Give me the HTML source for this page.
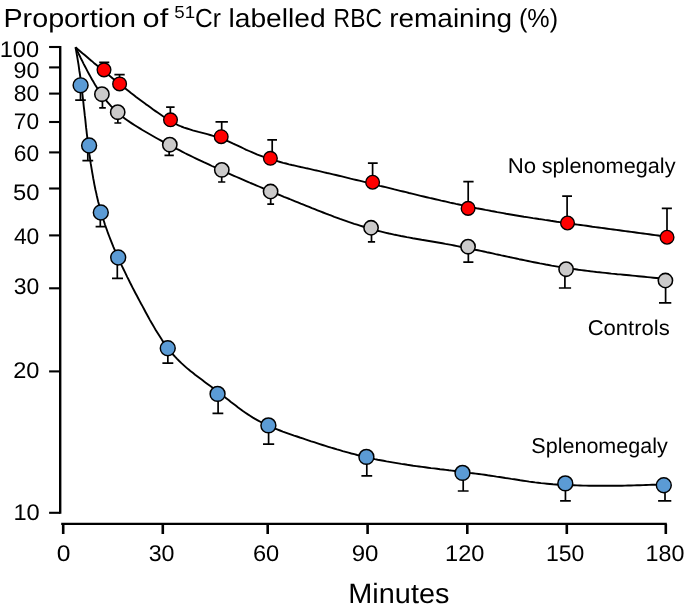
<!DOCTYPE html>
<html><head><meta charset="utf-8"><title>Chart</title>
<style>
html,body{margin:0;padding:0;background:#fff;}
svg{display:block;will-change:transform;}
text{font-family:"Liberation Sans",sans-serif;fill:#000;filter:grayscale(1);text-rendering:geometricPrecision;}
</style></head><body>
<svg width="685" height="612" viewBox="0 0 685 612">
<rect width="685" height="612" fill="#fff"/>
<path d="M60.2,45.9 V513.8" stroke="#000" stroke-width="2.4" fill="none"/>
<path d="M49.1,47.00 H60.2" stroke="#000" stroke-width="2.1" fill="none"/>
<path d="M49.1,67.40 H60.2" stroke="#000" stroke-width="2.1" fill="none"/>
<path d="M49.1,93.60 H60.2" stroke="#000" stroke-width="2.1" fill="none"/>
<path d="M49.1,122.00 H60.2" stroke="#000" stroke-width="2.1" fill="none"/>
<path d="M49.1,152.40 H60.2" stroke="#000" stroke-width="2.1" fill="none"/>
<path d="M49.1,188.50 H60.2" stroke="#000" stroke-width="2.1" fill="none"/>
<path d="M49.1,235.40 H60.2" stroke="#000" stroke-width="2.1" fill="none"/>
<path d="M49.1,288.30 H60.2" stroke="#000" stroke-width="2.1" fill="none"/>
<path d="M49.1,371.40 H60.2" stroke="#000" stroke-width="2.1" fill="none"/>
<path d="M49.1,512.80 H60.2" stroke="#000" stroke-width="2.1" fill="none"/>
<path d="M61.2,523.9 H666.8" stroke="#000" stroke-width="2.2" fill="none"/>
<path d="M63.20,523.9 V534.0" stroke="#000" stroke-width="2.6" fill="none"/>
<path d="M162.80,523.9 V534.0" stroke="#000" stroke-width="2.6" fill="none"/>
<path d="M267.70,523.9 V534.0" stroke="#000" stroke-width="2.6" fill="none"/>
<path d="M367.60,523.9 V534.0" stroke="#000" stroke-width="2.6" fill="none"/>
<path d="M467.30,523.9 V534.0" stroke="#000" stroke-width="2.6" fill="none"/>
<path d="M566.80,523.9 V534.0" stroke="#000" stroke-width="2.6" fill="none"/>
<path d="M665.80,523.9 V534.0" stroke="#000" stroke-width="2.6" fill="none"/>
<text x="-0.32" y="56.90" font-size="22.60" textLength="39.35" lengthAdjust="spacingAndGlyphs">100</text>
<text x="13.50" y="77.60" font-size="22.60" textLength="25.85" lengthAdjust="spacingAndGlyphs">90</text>
<text x="13.89" y="101.10" font-size="22.60" textLength="25.50" lengthAdjust="spacingAndGlyphs">80</text>
<text x="13.85" y="128.90" font-size="22.60" textLength="25.23" lengthAdjust="spacingAndGlyphs">70</text>
<text x="13.77" y="160.60" font-size="22.60" textLength="25.36" lengthAdjust="spacingAndGlyphs">60</text>
<text x="13.09" y="200.10" font-size="22.60" textLength="26.43" lengthAdjust="spacingAndGlyphs">50</text>
<text x="13.90" y="244.00" font-size="22.60" textLength="25.41" lengthAdjust="spacingAndGlyphs">40</text>
<text x="13.89" y="293.90" font-size="22.60" textLength="25.48" lengthAdjust="spacingAndGlyphs">30</text>
<text x="13.22" y="377.60" font-size="22.60" textLength="26.22" lengthAdjust="spacingAndGlyphs">20</text>
<text x="13.48" y="520.00" font-size="22.60" textLength="26.31" lengthAdjust="spacingAndGlyphs">10</text>
<text x="56.74" y="560.80" font-size="22.60" textLength="13.69" lengthAdjust="spacingAndGlyphs">0</text>
<text x="148.65" y="560.80" font-size="22.60" textLength="25.82" lengthAdjust="spacingAndGlyphs">30</text>
<text x="252.92" y="560.80" font-size="22.60" textLength="26.30" lengthAdjust="spacingAndGlyphs">60</text>
<text x="351.78" y="560.80" font-size="22.60" textLength="26.73" lengthAdjust="spacingAndGlyphs">90</text>
<text x="445.11" y="560.80" font-size="22.60" textLength="39.27" lengthAdjust="spacingAndGlyphs">120</text>
<text x="545.96" y="560.80" font-size="22.60" textLength="38.33" lengthAdjust="spacingAndGlyphs">150</text>
<text x="645.60" y="560.80" font-size="22.60" textLength="38.86" lengthAdjust="spacingAndGlyphs">180</text>
<text x="3.48" y="26.50" font-size="26.00" textLength="132.50" lengthAdjust="spacingAndGlyphs">Proportion</text>
<text x="142.60" y="26.50" font-size="26.00" textLength="25.61" lengthAdjust="spacingAndGlyphs">of</text>
<text x="195.04" y="26.50" font-size="26.00" textLength="25.95" lengthAdjust="spacingAndGlyphs">Cr</text>
<text x="228.48" y="26.50" font-size="26.00" textLength="97.24" lengthAdjust="spacingAndGlyphs">labelled</text>
<text x="333.61" y="26.50" font-size="26.00" textLength="48.34" lengthAdjust="spacingAndGlyphs">RBC</text>
<text x="389.20" y="26.50" font-size="26.00" textLength="122.81" lengthAdjust="spacingAndGlyphs">remaining</text>
<text x="519.01" y="26.50" font-size="26.00" textLength="39.04" lengthAdjust="spacingAndGlyphs">(%)</text>
<text x="174.28" y="17.60" font-size="17.40" textLength="20.87" lengthAdjust="spacingAndGlyphs">51</text>
<text x="348.31" y="602.90" font-size="28.00" textLength="101.13" lengthAdjust="spacingAndGlyphs">Minutes</text>
<text x="507.69" y="172.60" font-size="21.40" textLength="28.40" lengthAdjust="spacingAndGlyphs">No</text>
<text x="541.70" y="172.60" font-size="21.40" textLength="133.82" lengthAdjust="spacingAndGlyphs">splenomegaly</text>
<text x="587.66" y="335.40" font-size="21.40" textLength="82.05" lengthAdjust="spacingAndGlyphs">Controls</text>
<text x="531.30" y="452.90" font-size="21.40" textLength="136.48" lengthAdjust="spacingAndGlyphs">Splenomegaly</text>
<path d="M102.45,94.20 V107.90 M99.20,107.90 H105.80" stroke="#000" stroke-width="1.70" fill="none"/>
<path d="M117.85,112.20 V123.00 M114.40,123.00 H121.30" stroke="#000" stroke-width="1.70" fill="none"/>
<path d="M169.15,144.70 V155.40 M164.50,155.40 H173.80" stroke="#000" stroke-width="1.70" fill="none"/>
<path d="M221.70,169.90 V182.00 M218.10,182.00 H225.30" stroke="#000" stroke-width="1.70" fill="none"/>
<path d="M270.70,191.50 V204.20 M267.30,204.20 H274.10" stroke="#000" stroke-width="1.70" fill="none"/>
<path d="M371.50,227.75 V241.80 M367.90,241.80 H375.10" stroke="#000" stroke-width="1.70" fill="none"/>
<path d="M468.35,246.70 V262.20 M463.30,262.20 H473.40" stroke="#000" stroke-width="1.70" fill="none"/>
<path d="M564.90,269.20 V288.00 M558.90,288.00 H571.10" stroke="#000" stroke-width="1.70" fill="none"/>
<path d="M665.60,280.50 V302.90 M659.00,302.90 H671.30" stroke="#000" stroke-width="1.70" fill="none"/>
<path d="M75.5,47.3 L76.8,50.1 L78.2,52.8 L79.5,55.5 L80.8,58.2 L82.2,60.9 L83.5,63.6 L84.9,66.2 L86.3,68.9 L87.7,71.6 L89.1,74.2 L90.6,76.9 L92.0,79.5 L93.6,82.1 L95.1,84.7 L96.7,87.2 L98.3,89.8 L100.0,92.3 L101.8,94.7 L103.6,97.2 L105.4,99.5 L107.3,101.9 L109.3,104.2 L111.3,106.4 L113.4,108.6 L115.5,110.7 L117.7,112.7 L120.0,114.7 L122.3,116.6 L124.7,118.4 L127.2,120.2 L129.6,121.9 L132.2,123.6 L134.7,125.2 L137.2,126.8 L139.8,128.4 L142.4,130.0 L145.0,131.5 L147.6,133.0 L150.2,134.5 L152.8,136.0 L155.4,137.5 L158.1,139.0 L160.7,140.4 L163.3,141.9 L166.0,143.3 L168.7,144.7 L171.3,146.1 L174.0,147.5 L176.7,148.9 L179.4,150.2 L182.0,151.6 L184.7,153.0 L187.4,154.3 L190.1,155.6 L192.9,157.0 L195.6,158.3 L198.3,159.6 L201.0,160.9 L203.7,162.2 L206.5,163.4 L209.2,164.7 L211.9,166.0 L214.7,167.2 L217.4,168.5 L220.1,169.7 L222.9,170.9 L225.6,172.2 L228.4,173.4 L231.2,174.6 L233.9,175.8 L236.7,177.0 L239.4,178.2 L242.2,179.4 L245.0,180.6 L247.8,181.8 L250.5,183.0 L253.3,184.1 L256.1,185.3 L258.9,186.5 L261.6,187.6 L264.4,188.8 L267.2,189.9 L270.0,191.1 L272.8,192.2 L275.6,193.4 L278.4,194.5 L281.1,195.6 L283.9,196.8 L286.7,197.9 L289.5,199.0 L292.3,200.2 L295.1,201.3 L297.9,202.4 L300.7,203.6 L303.5,204.7 L306.3,205.8 L309.1,206.9 L311.9,208.1 L314.7,209.2 L317.5,210.3 L320.3,211.4 L323.1,212.5 L325.9,213.6 L328.7,214.7 L331.5,215.7 L334.3,216.8 L337.2,217.8 L340.0,218.9 L342.8,219.9 L345.7,220.9 L348.5,221.9 L351.4,222.8 L354.2,223.8 L357.1,224.7 L360.0,225.6 L362.8,226.5 L365.7,227.4 L368.6,228.3 L371.5,229.1 L374.4,229.9 L377.3,230.7 L380.3,231.4 L383.2,232.1 L386.1,232.8 L389.1,233.5 L392.0,234.1 L394.9,234.8 L397.9,235.4 L400.9,236.0 L403.8,236.5 L406.8,237.1 L409.7,237.6 L412.7,238.2 L415.7,238.7 L418.6,239.2 L421.6,239.8 L424.6,240.3 L427.5,240.8 L430.5,241.3 L433.5,241.8 L436.4,242.3 L439.4,242.8 L442.4,243.3 L445.4,243.9 L448.3,244.4 L451.3,244.9 L454.2,245.5 L457.2,246.1 L460.2,246.7 L463.1,247.2 L466.1,247.8 L469.0,248.4 L472.0,249.0 L474.9,249.7 L477.9,250.3 L480.8,250.9 L483.8,251.5 L486.7,252.2 L489.7,252.8 L492.6,253.4 L495.5,254.1 L498.5,254.7 L501.4,255.4 L504.4,256.0 L507.3,256.6 L510.3,257.3 L513.2,257.9 L516.2,258.5 L519.1,259.2 L522.1,259.8 L525.0,260.4 L528.0,261.0 L530.9,261.6 L533.9,262.2 L536.8,262.8 L539.8,263.4 L542.7,263.9 L545.7,264.5 L548.7,265.0 L551.6,265.6 L554.6,266.1 L557.6,266.6 L560.5,267.1 L563.5,267.6 L566.5,268.0 L569.5,268.5 L572.4,268.9 L575.4,269.3 L578.4,269.8 L581.4,270.1 L584.4,270.5 L587.4,270.9 L590.4,271.3 L593.4,271.6 L596.4,272.0 L599.4,272.3 L602.3,272.6 L605.3,272.9 L608.3,273.2 L611.3,273.6 L614.3,273.9 L617.3,274.2 L620.3,274.4 L623.3,274.7 L626.3,275.0 L629.3,275.3 L632.3,275.6 L635.3,275.9 L638.3,276.2 L641.3,276.5 L644.3,276.8 L647.3,277.1 L650.3,277.4 L653.3,277.7 L656.3,278.0 L659.3,278.3 L662.3,278.7 L665.3,279.0" stroke="#000" stroke-width="1.90" fill="none" stroke-linejoin="round"/>
<circle cx="101.90" cy="94.20" r="7.15" fill="#cbcaca" stroke="#000" stroke-width="1.55"/>
<circle cx="117.70" cy="112.20" r="7.15" fill="#cbcaca" stroke="#000" stroke-width="1.55"/>
<circle cx="169.80" cy="144.70" r="7.15" fill="#cbcaca" stroke="#000" stroke-width="1.55"/>
<circle cx="221.80" cy="169.90" r="7.15" fill="#cbcaca" stroke="#000" stroke-width="1.55"/>
<circle cx="270.60" cy="191.50" r="7.15" fill="#cbcaca" stroke="#000" stroke-width="1.55"/>
<circle cx="371.05" cy="227.75" r="7.15" fill="#cbcaca" stroke="#000" stroke-width="1.55"/>
<circle cx="468.05" cy="246.70" r="7.15" fill="#cbcaca" stroke="#000" stroke-width="1.55"/>
<circle cx="566.10" cy="269.20" r="7.15" fill="#cbcaca" stroke="#000" stroke-width="1.55"/>
<circle cx="665.40" cy="280.50" r="7.15" fill="#cbcaca" stroke="#000" stroke-width="1.55"/>
<path d="M104.25,69.85 V62.35 M99.20,62.35 H109.30" stroke="#000" stroke-width="1.70" fill="none"/>
<path d="M119.55,83.90 V74.60 M114.40,74.60 H124.70" stroke="#000" stroke-width="1.70" fill="none"/>
<path d="M170.35,119.80 V107.20 M166.10,107.20 H174.60" stroke="#000" stroke-width="1.70" fill="none"/>
<path d="M221.70,136.70 V121.90 M215.50,121.90 H227.90" stroke="#000" stroke-width="1.70" fill="none"/>
<path d="M272.20,158.30 V139.90 M267.30,139.90 H277.00" stroke="#000" stroke-width="1.70" fill="none"/>
<path d="M372.60,182.25 V163.20 M367.90,163.20 H377.70" stroke="#000" stroke-width="1.70" fill="none"/>
<path d="M468.20,208.40 V181.70 M463.30,181.70 H473.60" stroke="#000" stroke-width="1.70" fill="none"/>
<path d="M567.10,223.00 V196.10 M562.20,196.10 H572.00" stroke="#000" stroke-width="1.70" fill="none"/>
<path d="M667.00,237.25 V208.30 M661.80,208.30 H671.90" stroke="#000" stroke-width="1.70" fill="none"/>
<path d="M75.5,47.3 L77.8,49.3 L80.1,51.2 L82.4,53.2 L84.7,55.1 L87.0,57.0 L89.3,59.0 L91.6,60.9 L93.9,62.9 L96.2,64.8 L98.5,66.7 L100.9,68.6 L103.2,70.6 L105.5,72.5 L107.8,74.4 L110.2,76.3 L112.5,78.2 L114.8,80.1 L117.2,82.0 L119.5,83.9 L121.9,85.7 L124.2,87.6 L126.6,89.5 L128.9,91.3 L131.3,93.2 L133.7,95.0 L136.1,96.9 L138.5,98.7 L140.9,100.5 L143.3,102.3 L145.7,104.1 L148.2,105.8 L150.6,107.6 L153.1,109.4 L155.5,111.1 L158.0,112.8 L160.5,114.5 L163.0,116.2 L165.5,117.8 L168.0,119.5 L170.6,121.1 L173.2,122.6 L175.8,124.0 L178.5,125.3 L181.3,126.5 L184.1,127.6 L187.0,128.5 L189.8,129.4 L192.7,130.3 L195.6,131.1 L198.5,131.9 L201.4,132.6 L204.4,133.4 L207.3,134.2 L210.2,135.0 L213.1,135.8 L215.9,136.7 L218.8,137.7 L221.6,138.7 L224.4,139.8 L227.2,140.9 L230.0,142.1 L232.7,143.4 L235.4,144.6 L238.2,145.9 L240.9,147.2 L243.6,148.5 L246.3,149.8 L249.1,151.0 L251.8,152.2 L254.6,153.4 L257.4,154.6 L260.2,155.6 L263.0,156.7 L265.8,157.7 L268.7,158.6 L271.6,159.5 L274.5,160.4 L277.3,161.2 L280.2,162.0 L283.2,162.8 L286.1,163.5 L289.0,164.3 L291.9,165.0 L294.9,165.6 L297.8,166.3 L300.7,167.0 L303.7,167.6 L306.6,168.3 L309.5,168.9 L312.5,169.6 L315.4,170.3 L318.3,170.9 L321.3,171.6 L324.2,172.3 L327.1,173.0 L330.1,173.6 L333.0,174.3 L335.9,175.0 L338.9,175.7 L341.8,176.4 L344.7,177.1 L347.6,177.8 L350.6,178.6 L353.5,179.3 L356.4,180.0 L359.3,180.7 L362.3,181.4 L365.2,182.1 L368.1,182.9 L371.0,183.6 L373.9,184.3 L376.9,185.0 L379.8,185.8 L382.7,186.5 L385.6,187.2 L388.5,187.9 L391.5,188.6 L394.4,189.4 L397.3,190.1 L400.2,190.8 L403.2,191.5 L406.1,192.2 L409.0,193.0 L411.9,193.7 L414.9,194.4 L417.8,195.1 L420.7,195.8 L423.6,196.5 L426.6,197.2 L429.5,197.9 L432.4,198.5 L435.4,199.2 L438.3,199.9 L441.2,200.6 L444.2,201.2 L447.1,201.9 L450.0,202.6 L453.0,203.2 L455.9,203.9 L458.9,204.5 L461.8,205.1 L464.7,205.7 L467.7,206.4 L470.6,207.0 L473.6,207.6 L476.5,208.2 L479.5,208.7 L482.4,209.3 L485.4,209.9 L488.4,210.4 L491.3,211.0 L494.3,211.5 L497.2,212.1 L500.2,212.6 L503.2,213.1 L506.1,213.7 L509.1,214.2 L512.1,214.7 L515.0,215.2 L518.0,215.7 L521.0,216.2 L523.9,216.7 L526.9,217.1 L529.9,217.6 L532.9,218.1 L535.8,218.5 L538.8,219.0 L541.8,219.4 L544.8,219.9 L547.7,220.3 L550.7,220.8 L553.7,221.2 L556.7,221.7 L559.6,222.1 L562.6,222.5 L565.6,222.9 L568.6,223.4 L571.6,223.8 L574.5,224.2 L577.5,224.6 L580.5,225.0 L583.5,225.4 L586.5,225.8 L589.5,226.2 L592.4,226.7 L595.4,227.1 L598.4,227.5 L601.4,227.9 L604.4,228.3 L607.4,228.7 L610.3,229.1 L613.3,229.5 L616.3,229.9 L619.3,230.3 L622.3,230.7 L625.3,231.1 L628.2,231.5 L631.2,231.9 L634.2,232.3 L637.2,232.7 L640.2,233.1 L643.2,233.5 L646.1,233.9 L649.1,234.3 L652.1,234.7 L655.1,235.1 L658.1,235.5 L661.0,236.0 L664.0,236.4 L667.0,236.8" stroke="#000" stroke-width="1.90" fill="none" stroke-linejoin="round"/>
<circle cx="104.00" cy="69.85" r="6.85" fill="#ff0000" stroke="#000" stroke-width="1.35"/>
<circle cx="119.60" cy="83.90" r="6.85" fill="#ff0000" stroke="#000" stroke-width="1.35"/>
<circle cx="170.50" cy="119.80" r="6.85" fill="#ff0000" stroke="#000" stroke-width="1.35"/>
<circle cx="221.20" cy="136.70" r="6.85" fill="#ff0000" stroke="#000" stroke-width="1.35"/>
<circle cx="270.40" cy="158.30" r="6.85" fill="#ff0000" stroke="#000" stroke-width="1.35"/>
<circle cx="372.60" cy="182.25" r="6.85" fill="#ff0000" stroke="#000" stroke-width="1.35"/>
<circle cx="468.10" cy="208.40" r="6.85" fill="#ff0000" stroke="#000" stroke-width="1.35"/>
<circle cx="567.50" cy="223.00" r="6.85" fill="#ff0000" stroke="#000" stroke-width="1.35"/>
<circle cx="667.05" cy="237.25" r="6.85" fill="#ff0000" stroke="#000" stroke-width="1.35"/>
<path d="M80.50,85.30 V100.10 M75.20,100.10 H85.80" stroke="#000" stroke-width="1.70" fill="none"/>
<path d="M87.80,145.50 V160.70 M82.40,160.70 H93.20" stroke="#000" stroke-width="1.70" fill="none"/>
<path d="M100.30,212.50 V226.70 M95.60,226.70 H105.00" stroke="#000" stroke-width="1.70" fill="none"/>
<path d="M117.30,257.50 V278.40 M112.00,278.40 H123.00" stroke="#000" stroke-width="1.70" fill="none"/>
<path d="M167.85,348.30 V363.10 M162.40,363.10 H173.30" stroke="#000" stroke-width="1.70" fill="none"/>
<path d="M218.10,393.90 V413.30 M212.50,413.30 H223.30" stroke="#000" stroke-width="1.70" fill="none"/>
<path d="M268.60,425.40 V444.20 M263.00,444.20 H274.20" stroke="#000" stroke-width="1.70" fill="none"/>
<path d="M366.80,456.90 V475.90 M361.40,475.90 H372.20" stroke="#000" stroke-width="1.70" fill="none"/>
<path d="M463.20,472.90 V491.00 M457.80,491.00 H468.60" stroke="#000" stroke-width="1.70" fill="none"/>
<path d="M565.45,483.40 V500.80 M560.10,500.80 H570.80" stroke="#000" stroke-width="1.70" fill="none"/>
<path d="M665.00,485.30 V500.80 M658.10,500.80 H671.30" stroke="#000" stroke-width="1.70" fill="none"/>
<path d="M75.5,47.4 L76.1,50.3 L76.6,53.3 L77.1,56.2 L77.6,59.2 L78.1,62.1 L78.6,65.1 L79.0,68.1 L79.4,71.0 L79.9,74.0 L80.3,77.0 L80.7,80.0 L81.0,82.9 L81.4,85.9 L81.8,88.9 L82.1,91.9 L82.5,94.8 L82.8,97.8 L83.2,100.8 L83.5,103.8 L83.8,106.8 L84.2,109.8 L84.5,112.7 L84.8,115.7 L85.2,118.7 L85.5,121.7 L85.8,124.7 L86.1,127.7 L86.5,130.6 L86.8,133.6 L87.2,136.6 L87.5,139.6 L87.9,142.6 L88.3,145.5 L88.7,148.5 L89.0,151.5 L89.4,154.5 L89.9,157.4 L90.3,160.4 L90.7,163.4 L91.2,166.3 L91.7,169.3 L92.2,172.3 L92.7,175.2 L93.2,178.2 L93.8,181.1 L94.3,184.1 L94.9,187.0 L95.5,190.0 L96.2,192.9 L96.8,195.8 L97.5,198.7 L98.2,201.7 L99.0,204.6 L99.8,207.5 L100.6,210.4 L101.4,213.2 L102.3,216.1 L103.1,219.0 L104.1,221.8 L105.0,224.7 L106.0,227.5 L107.0,230.3 L108.0,233.2 L109.1,236.0 L110.2,238.8 L111.3,241.6 L112.4,244.3 L113.5,247.1 L114.7,249.9 L115.9,252.6 L117.1,255.4 L118.3,258.1 L119.6,260.9 L120.8,263.6 L122.1,266.3 L123.4,269.0 L124.7,271.7 L126.0,274.4 L127.3,277.1 L128.7,279.8 L130.0,282.5 L131.4,285.2 L132.7,287.8 L134.1,290.5 L135.5,293.2 L136.9,295.8 L138.3,298.5 L139.7,301.1 L141.1,303.8 L142.6,306.4 L144.0,309.0 L145.4,311.7 L146.8,314.3 L148.3,317.0 L149.7,319.6 L151.2,322.2 L152.7,324.8 L154.2,327.4 L155.7,330.0 L157.3,332.6 L158.9,335.1 L160.5,337.6 L162.1,340.1 L163.8,342.6 L165.6,345.1 L167.3,347.5 L169.2,349.9 L171.1,352.2 L173.0,354.5 L175.0,356.7 L177.1,358.9 L179.2,361.0 L181.4,363.1 L183.6,365.1 L185.8,367.1 L188.1,369.1 L190.4,371.0 L192.8,372.8 L195.1,374.7 L197.5,376.5 L199.9,378.3 L202.3,380.1 L204.7,381.9 L207.1,383.7 L209.6,385.5 L212.0,387.2 L214.4,389.0 L216.8,390.8 L219.2,392.7 L221.5,394.5 L223.9,396.4 L226.2,398.2 L228.6,400.1 L230.9,402.0 L233.3,403.8 L235.7,405.6 L238.1,407.5 L240.5,409.2 L242.9,411.0 L245.4,412.7 L247.9,414.4 L250.4,416.0 L252.9,417.6 L255.5,419.1 L258.2,420.6 L260.8,422.0 L263.5,423.4 L266.2,424.7 L268.9,425.9 L271.6,427.2 L274.4,428.3 L277.2,429.4 L280.0,430.5 L282.8,431.6 L285.6,432.6 L288.4,433.6 L291.3,434.6 L294.1,435.6 L297.0,436.5 L299.8,437.5 L302.7,438.4 L305.5,439.4 L308.3,440.3 L311.2,441.3 L314.1,442.2 L316.9,443.1 L319.8,444.1 L322.6,445.0 L325.5,445.9 L328.3,446.8 L331.2,447.7 L334.1,448.5 L337.0,449.4 L339.8,450.2 L342.7,451.1 L345.6,451.9 L348.5,452.7 L351.4,453.5 L354.3,454.2 L357.2,455.0 L360.1,455.7 L363.0,456.4 L366.0,457.1 L368.9,457.8 L371.8,458.4 L374.8,459.1 L377.7,459.7 L380.6,460.2 L383.6,460.8 L386.5,461.4 L389.5,461.9 L392.4,462.4 L395.4,462.9 L398.4,463.4 L401.3,463.9 L404.3,464.3 L407.3,464.8 L410.2,465.2 L413.2,465.7 L416.2,466.1 L419.1,466.5 L422.1,466.9 L425.1,467.3 L428.1,467.7 L431.0,468.1 L434.0,468.4 L437.0,468.8 L440.0,469.2 L443.0,469.5 L445.9,469.9 L448.9,470.3 L451.9,470.6 L454.9,471.0 L457.9,471.4 L460.8,471.7 L463.8,472.1 L466.8,472.5 L469.8,472.9 L472.7,473.2 L475.7,473.6 L478.7,474.0 L481.7,474.4 L484.6,474.8 L487.6,475.3 L490.6,475.7 L493.6,476.1 L496.5,476.6 L499.5,477.0 L502.5,477.5 L505.4,478.0 L508.4,478.4 L511.3,478.9 L514.3,479.3 L517.3,479.8 L520.2,480.3 L523.2,480.7 L526.2,481.1 L529.2,481.6 L532.1,482.0 L535.1,482.4 L538.1,482.7 L541.1,483.1 L544.0,483.4 L547.0,483.7 L550.0,484.0 L553.0,484.3 L556.0,484.5 L559.0,484.7 L562.0,484.9 L565.0,485.0 L568.0,485.1 L571.0,485.2 L574.0,485.3 L577.0,485.4 L580.0,485.5 L583.0,485.6 L586.0,485.6 L589.0,485.7 L592.0,485.7 L595.0,485.7 L598.0,485.8 L601.0,485.8 L604.0,485.8 L607.0,485.8 L610.0,485.8 L613.0,485.8 L616.0,485.7 L619.0,485.7 L622.0,485.7 L625.0,485.6 L628.0,485.5 L631.0,485.5 L634.0,485.4 L637.0,485.3 L640.0,485.2 L643.0,485.1 L646.0,485.0 L649.0,484.9 L652.0,484.8 L655.0,484.7 L658.0,484.6 L661.0,484.4 L664.0,484.3" stroke="#000" stroke-width="1.90" fill="none" stroke-linejoin="round"/>
<circle cx="80.60" cy="85.30" r="7.45" fill="#5b9bd5" stroke="#000" stroke-width="1.45"/>
<circle cx="89.10" cy="145.50" r="7.45" fill="#5b9bd5" stroke="#000" stroke-width="1.45"/>
<circle cx="100.80" cy="212.50" r="7.45" fill="#5b9bd5" stroke="#000" stroke-width="1.45"/>
<circle cx="118.20" cy="257.50" r="7.45" fill="#5b9bd5" stroke="#000" stroke-width="1.45"/>
<circle cx="167.75" cy="348.30" r="7.45" fill="#5b9bd5" stroke="#000" stroke-width="1.45"/>
<circle cx="217.56" cy="393.90" r="7.45" fill="#5b9bd5" stroke="#000" stroke-width="1.45"/>
<circle cx="268.40" cy="425.40" r="7.45" fill="#5b9bd5" stroke="#000" stroke-width="1.45"/>
<circle cx="366.40" cy="456.90" r="7.45" fill="#5b9bd5" stroke="#000" stroke-width="1.45"/>
<circle cx="462.50" cy="472.90" r="7.45" fill="#5b9bd5" stroke="#000" stroke-width="1.45"/>
<circle cx="565.30" cy="483.40" r="7.45" fill="#5b9bd5" stroke="#000" stroke-width="1.45"/>
<circle cx="663.80" cy="485.30" r="7.45" fill="#5b9bd5" stroke="#000" stroke-width="1.45"/>
</svg>
</body></html>
